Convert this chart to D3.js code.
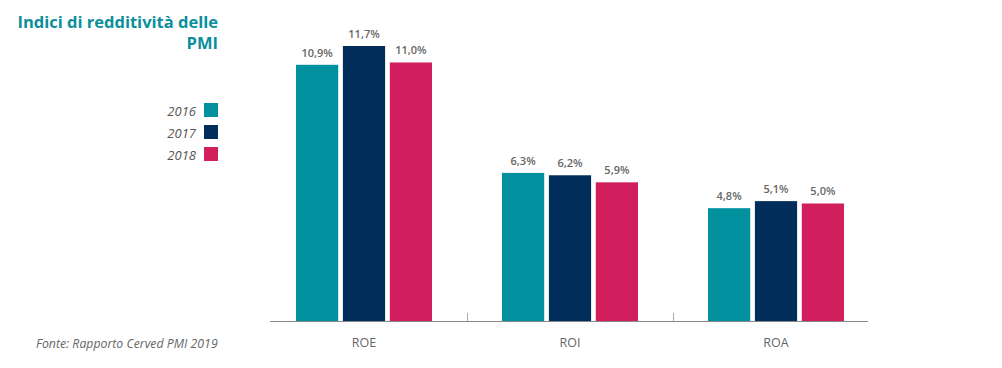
<!DOCTYPE html>
<html lang="it">
<head>
<meta charset="UTF-8">
<title>Indici di redditività delle PMI</title>
<script src="https://cdn.jsdelivr.net/npm/d3@7"></script>
<style>
  body { margin: 0; background: #fff; }
  svg text { font-family: "Open Sans", sans-serif; }
  .title { fill: #0a8f9b; font-weight: 700; font-size: 16.5px; }
  .leg { fill: #555; font-style: italic; font-size: 13px; }
  .src { fill: #666; font-style: italic; font-size: 12.3px; }
  .val { fill: #666; font-size: 11px; font-weight: 600; }
  .cat { fill: #666; font-size: 12.5px; }
</style>
</head>
<body>
<script>
var categories = ["ROE", "ROI", "ROA"];
var years = ["2016", "2017", "2018"];
var values = {
  "2016": [10.9, 6.3, 4.8],
  "2017": [11.7, 6.2, 5.1],
  "2018": [11.0, 5.9, 5.0]
};
var colors = ["#00909e", "#002d59", "#d11f5e"];

var width = 1002, height = 368;
var baseY = 321;

var svg = d3.select("body").append("svg").attr("width", width).attr("height", height);

var x = d3.scaleBand().domain(categories).range([261, 879]);
var xi = d3.scaleBand().domain(years).range([-68, 68]).paddingInner(0.1);
var y = d3.scaleLinear().domain([0, 11.7]).range([baseY, 46]);

var fmt = function(v){ return d3.format(".1f")(v).replace(".", ",") + "%"; };

// bars
var groups = svg.selectAll("g.grp").data(categories).enter().append("g")
  .attr("transform", function(d){ return "translate(" + (x(d) + x.bandwidth()/2) + ",0)"; });

years.forEach(function(yr, k){
  groups.append("rect")
    .attr("x", xi(yr))
    .attr("width", xi.bandwidth())
    .attr("y", function(d, i){ return y(values[yr][i]); })
    .attr("height", function(d, i){ return baseY - y(values[yr][i]); })
    .attr("fill", colors[k]);
  groups.append("text").attr("class", "val")
    .attr("x", xi(yr) + xi.bandwidth()/2)
    .attr("y", function(d, i){ return y(values[yr][i]) - 8; })
    .attr("text-anchor", "middle")
    .text(function(d, i){ return fmt(values[yr][i]); });
});

// axis
svg.append("line").attr("x1", 270).attr("x2", 868).attr("y1", baseY + 0.5).attr("y2", baseY + 0.5)
  .attr("stroke", "#888").attr("stroke-width", 1);
categories.slice(1).forEach(function(c){
  svg.append("line").attr("x1", x(c) + 0.5).attr("x2", x(c) + 0.5)
    .attr("y1", baseY - 8).attr("y2", baseY)
    .attr("stroke", "#aaa").attr("stroke-width", 1);
});
svg.selectAll("text.cat").data(categories).enter().append("text").attr("class", "cat")
  .attr("x", function(d){ return x(d) + x.bandwidth()/2; })
  .attr("y", 347)
  .attr("text-anchor", "middle")
  .text(function(d){ return d; });

// title
svg.append("text").attr("class", "title").attr("x", 218).attr("y", 28).attr("text-anchor", "end")
  .text("Indici di redditività delle");
svg.append("text").attr("class", "title").attr("x", 218).attr("y", 49).attr("text-anchor", "end")
  .text("PMI");

// legend
years.forEach(function(yr, k){
  var ly = 103 + k * 22;
  svg.append("rect").attr("x", 204).attr("y", ly).attr("width", 14).attr("height", 14).attr("fill", colors[k]);
  svg.append("text").attr("class", "leg").attr("x", 196).attr("y", ly + 13).attr("text-anchor", "end").text(yr);
});

// source
svg.append("text").attr("class", "src").attr("x", 36).attr("y", 348).text("Fonte: Rapporto Cerved PMI 2019");
</script>
</body>
</html>
